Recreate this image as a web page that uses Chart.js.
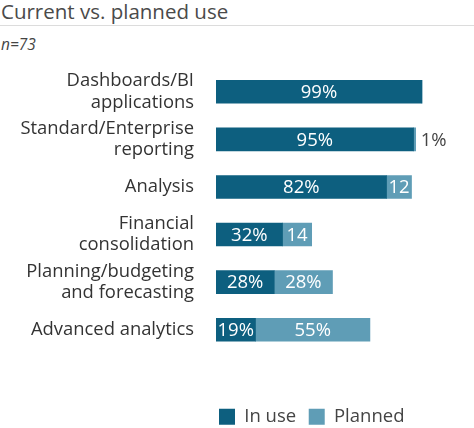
<!DOCTYPE html>
<html>
<head>
<meta charset="utf-8">
<script src="https://cdn.jsdelivr.net/npm/chart.js@4"></script>
<style>
  body { margin: 0; width: 474px; height: 428px; position: relative; font-family: "Open Sans", sans-serif; background: #fff; overflow: hidden; }
  #title { position: absolute; left: 1px; top: -3px; font-size: 20.5px; color: #4a4a4a; }
  #rule { position: absolute; left: 0; top: 25px; width: 474px; height: 1px; background: #dcdcdc; }
  #note { position: absolute; left: 1px; top: 33px; font-size: 15.5px; font-style: italic; color: #444; }
  #wrap { position: absolute; left: 0; top: 0; width: 474px; height: 436px; }
</style>
</head>
<body>
<div id="title">Current vs. planned use</div>
<div id="rule"></div>
<div id="note">n=73</div>
<div id="wrap"><canvas id="chart"></canvas></div>
<script>
const categories = [
  ['Dashboards/BI', 'applications'],
  ['Standard/Enterprise', 'reporting'],
  'Analysis',
  ['Financial', 'consolidation'],
  ['Planning/budgeting', 'and forecasting'],
  'Advanced analytics'
];
const inUse = [99, 95, 82, 32, 28, 19];
const planned = [0, 1, 12, 14, 28, 55];
const inUseLabels = ['99%', '95%', '82%', '32%', '28%', '19%'];
const plannedLabels = ['', '1%', '12', '14', '28%', '55%'];

const darkBlue = '#0d5f7f';
const lightBlue = '#5f9db6';

// writes the value labels on the bars
const barLabels = {
  id: 'barLabels',
  afterDatasetsDraw(chart) {
    const ctx = chart.ctx;
    ctx.save();
    ctx.font = '18.5px "Open Sans"';
    ctx.textBaseline = 'middle';
    ctx.textAlign = 'center';
    chart.getDatasetMeta(0).data.forEach((bar, i) => {
      ctx.fillStyle = '#fff';
      ctx.fillText(inUseLabels[i], (bar.base + bar.x) / 2, bar.y + 1);
    });
    chart.getDatasetMeta(1).data.forEach((bar, i) => {
      const txt = plannedLabels[i];
      if (!txt) return;
      const w = bar.x - bar.base;
      if (w < 10) {
        ctx.fillStyle = '#444';
        ctx.textAlign = 'left';
        ctx.fillText(txt, bar.x + 5, bar.y + 1);
        ctx.textAlign = 'center';
      } else {
        ctx.fillStyle = '#fff';
        ctx.fillText(txt, (bar.base + bar.x) / 2, bar.y + 1);
      }
    });
    ctx.restore();
  }
};

new Chart(document.getElementById('chart'), {
  type: 'bar',
  data: {
    labels: categories,
    datasets: [
      { label: 'In use', data: inUse, backgroundColor: darkBlue, barThickness: 23 },
      { label: 'Planned', data: planned, backgroundColor: lightBlue, barThickness: 23 }
    ]
  },
  options: {
    indexAxis: 'y',
    responsive: true,
    maintainAspectRatio: false,
    animation: false,
    layout: { padding: { top: 68, right: 50, left: 0, bottom: 0 } },
    scales: {
      x: {
        stacked: true,
        min: 0,
        max: 100,
        grid: { display: false },
        border: { display: false },
        ticks: { display: false },
        afterFit(scale) { scale.height = 51; }
      },
      y: {
        stacked: true,
        grid: { display: false, drawTicks: false },
        border: { display: false },
        ticks: {
          color: '#333',
          padding: 22,
          autoSkip: false,
          font: { family: 'Open Sans', size: 18.4, lineHeight: 1.15 }
        },
        afterFit(scale) { scale.width = 216; }
      }
    },
    plugins: {
      legend: {
        position: 'bottom',
        align: 'start',
        fullSize: false,
        labels: {
          boxWidth: 16,
          boxHeight: 16,
          padding: 3,
          color: '#444',
          font: { family: 'Open Sans', size: 18.5 },
          generateLabels(chart) {
            return chart.data.datasets.map((ds, i) => ({
              text: i === 0 ? ds.label + '  ' : ds.label,
              fillStyle: ds.backgroundColor,
              strokeStyle: ds.backgroundColor,
              lineWidth: 0,
              datasetIndex: i,
              fontColor: '#444'
            }));
          }
        }
      },
      tooltip: { enabled: false }
    }
  },
  plugins: [barLabels]
});
</script>
</body>
</html>
